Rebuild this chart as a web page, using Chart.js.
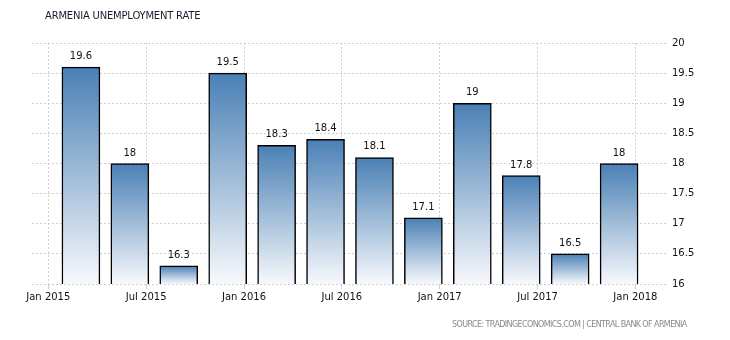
<!DOCTYPE html>
<html>
<head>
<meta charset="utf-8">
<script src="https://cdn.jsdelivr.net/npm/chart.js@4.4.1/dist/chart.umd.min.js"></script>
<style>
  html, body { margin: 0; padding: 0; background: #fff; }
  #wrap { position: relative; width: 730px; height: 340px; }
  #title { position: absolute; left: 45px; top: 10px; font-family: "DejaVu Sans", sans-serif; font-size: 10px; color: #1a1a2e; white-space: nowrap; letter-spacing: -0.2px; }
  #source { position: absolute; left: 452px; top: 320px; font-family: "DejaVu Sans", sans-serif; font-size: 8px; color: #8a8a8a; white-space: nowrap; letter-spacing: -0.6px; }
  canvas { position: absolute; left: 0; top: 0; }
</style>
</head>
<body>
<div id="wrap">
  <canvas id="c" width="730" height="340"></canvas>
  <div id="title">ARMENIA UNEMPLOYMENT RATE</div>
  <div id="source">SOURCE: TRADINGECONOMICS.COM | CENTRAL BANK OF ARMENIA</div>
</div>
<script>
// Quarter-end months, counted from Jan 2015 = 0
const barMonths = [2, 5, 8, 11, 14, 17, 20, 23, 26, 29, 32, 35];
const rateValues = [19.6, 18, 16.3, 19.5, 18.3, 18.4, 18.1, 17.1, 19, 17.8, 16.5, 18];
const tickMonths = [0, 6, 12, 18, 24, 30, 36];
const tickLabels = ['Jan 2015', 'Jul 2015', 'Jan 2016', 'Jul 2016', 'Jan 2017', 'Jul 2017', 'Jan 2018'];
const yTicks = [16, 16.5, 17, 17.5, 18, 18.5, 19, 19.5, 20];

const FONT = '"DejaVu Sans", sans-serif';

const valueLabels = {
  id: 'valueLabels',
  afterDatasetsDraw(chart) {
    const ctx = chart.ctx;
    const meta = chart.getDatasetMeta(0);
    ctx.save();
    ctx.font = '10px ' + FONT;
    ctx.fillStyle = '#111';
    ctx.textAlign = 'center';
    ctx.textBaseline = 'alphabetic';
    meta.data.forEach((bar, i) => {
      ctx.fillText(String(rateValues[i]), bar.x, bar.y - 8);
    });
    ctx.restore();
  }
};

function barGradient(context) {
  const chart = context.chart;
  const yScale = chart.scales.y;
  if (!yScale || !chart.chartArea) return '#4a80b5';
  const v = context.raw && context.raw.y !== undefined ? context.raw.y : rateValues[context.dataIndex];
  const top = yScale.getPixelForValue(v);
  const bottom = yScale.getPixelForValue(16);
  const g = chart.ctx.createLinearGradient(0, top, 0, bottom);
  g.addColorStop(0, '#4a80b5');
  g.addColorStop(1, '#f7f9fc');
  return g;
}

new Chart(document.getElementById('c'), {
  type: 'bar',
  data: {
    datasets: [{
      data: barMonths.map((m, i) => ({ x: m, y: rateValues[i] })),
      backgroundColor: barGradient,
      borderColor: '#000',
      borderWidth: 1.5,
      borderSkipped: false,
      barThickness: 38
    }]
  },
  options: {
    responsive: false,
    animation: false,
    layout: { padding: { left: 32, top: 43, right: 0, bottom: 0 } },
    plugins: { legend: { display: false }, tooltip: { enabled: false }, title: { display: false } },
    scales: {
      x: {
        type: 'linear',
        min: -1,
        max: 38,
        offset: false,
        afterBuildTicks(scale) { scale.ticks = tickMonths.map(v => ({ value: v })); },
        afterFit(scale) { scale.height = 56; },
        ticks: {
          autoSkip: false,
          maxRotation: 0,
          padding: 2,
          color: '#111',
          font: { family: FONT, size: 10 },
          callback(value) { const k = tickMonths.indexOf(value); return k >= 0 ? tickLabels[k] : ''; }
        },
        grid: { offset: false, color: '#cfcfcf', lineWidth: 1, drawTicks: true, tickLength: 5 },
        border: { display: false, dash: [2, 2] }
      },
      y: {
        position: 'right',
        min: 16,
        max: 20,
        afterBuildTicks(scale) { scale.ticks = yTicks.map(v => ({ value: v })); },
        afterFit(scale) { scale.width = 62; },
        ticks: {
          padding: 4,
          color: '#111',
          font: { family: FONT, size: 10 },
          callback(value) { return String(value); }
        },
        grid: { color: '#cfcfcf', lineWidth: 1, drawTicks: false },
        border: { display: false, dash: [2, 2] }
      }
    }
  },
  plugins: [valueLabels]
});
</script>
</body>
</html>
